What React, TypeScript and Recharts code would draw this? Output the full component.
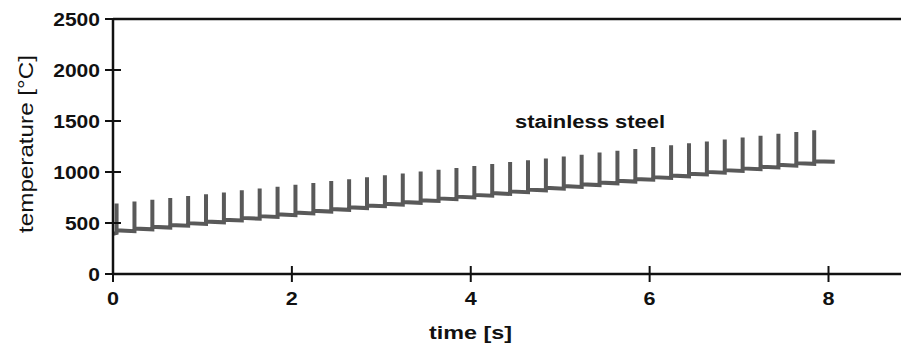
import { Label, Line, LineChart, ReferenceLine, XAxis, YAxis } from "recharts";

// time of each heating pulse [s]
const spikeTimes = [
    0.04, 0.24, 0.44, 0.64, 0.84, 1.04, 1.24, 1.44, 1.64, 1.84,
    2.04, 2.24, 2.44, 2.64, 2.84, 3.04, 3.24, 3.44, 3.64, 3.84,
    4.04, 4.24, 4.44, 4.64, 4.84, 5.04, 5.24, 5.44, 5.64, 5.84,
    6.04, 6.24, 6.44, 6.64, 6.84, 7.04, 7.24, 7.44, 7.64, 7.84,
];

// peak temperature reached in each pulse [°C]
const peakTemps = [
    690, 710, 727, 745, 765, 783, 800, 820, 838, 855,
    875, 893, 912, 930, 948, 968, 985, 1005, 1022, 1040,
    1060, 1078, 1097, 1115, 1133, 1152, 1170, 1190, 1208, 1225,
    1245, 1263, 1282, 1300, 1318, 1338, 1355, 1375, 1393, 1410,
];

// base temperature just before each pulse
const preTemps = [
    403, 420, 438, 455, 473, 490, 507, 525, 542, 560,
    577, 594, 612, 629, 646, 664, 681, 698, 716, 733,
    750, 768, 785, 802, 820, 837, 854, 872, 889, 906,
    924, 941, 958, 976, 993, 1010, 1028, 1045, 1062, 1080,
];

// base temperature just after each pulse
const postTemps = [
    428, 445, 463, 480, 498, 515, 532, 550, 567, 585,
    602, 619, 637, 654, 671, 689, 706, 723, 741, 758,
    775, 793, 810, 827, 845, 862, 879, 897, 914, 931,
    949, 966, 983, 1001, 1018, 1035, 1053, 1070, 1087, 1105,
];

const startPoint = { time: 0, temp: 395 };
const endPoint = { time: 8.07, temp: 1100 };

const xTicks = [0, 2, 4, 6, 8];
const yTicks = [0, 500, 1000, 1500, 2000, 2500];

const seriesLabel = "stainless steel";
const xLabel = "time [s]";
const yLabel = "temperature [°C]";

const data = [
    startPoint,
    ...spikeTimes.flatMap((time, i) => [
        { time, temp: preTemps[i] },
        { time, temp: peakTemps[i] },
        { time, temp: postTemps[i] },
    ]),
    endPoint,
];

const FONT = '"Liberation Sans", Arial, sans-serif';
const AXIS_X = 105; // y-axis line, chart coords
const AXIS_Y = 266; // x-axis line, chart coords
const INK = "#111";

function YTick(props: any) {
    const { y, payload } = props;
    const text = String(payload.value);
    return (
        <g>
            <line x1={AXIS_X - 8} x2={AXIS_X + 8} y1={y} y2={y} stroke={INK} strokeWidth={2} />
            <text
                x={AXIS_X - 13}
                y={y + 6.5}
                textAnchor="end"
                fontFamily={FONT}
                fontWeight="bold"
                fontSize={18}
                fill={INK}
                textLength={text.length * 11.7}
                lengthAdjust="spacingAndGlyphs"
            >
                {text}
            </text>
        </g>
    );
}

function XTick(props: any) {
    const { x, payload } = props;
    return (
        <g>
            <line x1={x} x2={x} y1={AXIS_Y - 8} y2={AXIS_Y + 8} stroke={INK} strokeWidth={2} />
            <text
                x={x}
                y={AXIS_Y + 31}
                textAnchor="middle"
                fontFamily={FONT}
                fontWeight="bold"
                fontSize={18}
                fill={INK}
                textLength={12}
                lengthAdjust="spacingAndGlyphs"
            >
                {payload.value}
            </text>
        </g>
    );
}

export default function App() {
    return (
        <div style={{ width: 901, height: 337, background: "#fff", overflow: "hidden" }}>
            <LineChart
                width={901}
                height={337}
                data={data}
                margin={{ top: 11, right: 0, left: 0, bottom: 11 }}
            >
                <XAxis
                    dataKey="time"
                    type="number"
                    domain={[0, 8.9]}
                    ticks={xTicks}
                    height={60}
                    axisLine={{ stroke: INK, strokeWidth: 2.5 }}
                    tickLine={false}
                    tick={<XTick />}
                >
                    <Label
                        content={() => (
                            <g>
                                <text
                                    x={421}
                                    y={331}
                                    fontFamily={FONT}
                                    fontWeight="bold"
                                    fontSize={19}
                                    fill={INK}
                                    textLength={83}
                                    lengthAdjust="spacingAndGlyphs"
                                >
                                    {xLabel}
                                </text>
                                <text
                                    x={507}
                                    y={120}
                                    fontFamily={FONT}
                                    fontWeight="bold"
                                    fontSize={18}
                                    fill={INK}
                                    textLength={150}
                                    lengthAdjust="spacingAndGlyphs"
                                >
                                    {seriesLabel}
                                </text>
                            </g>
                        )}
                    />
                </XAxis>
                <YAxis
                    type="number"
                    domain={[0, 2500]}
                    ticks={yTicks}
                    width={105}
                    axisLine={{ stroke: INK, strokeWidth: 2.5 }}
                    tickLine={false}
                    tick={<YTick />}
                >
                    <Label
                        content={() => (
                            <text
                                x={25}
                                y={136}
                                transform="rotate(-90, 25, 136)"
                                textAnchor="middle"
                                fontFamily={FONT}
                                fontSize={21}
                                fill={INK}
                                textLength={178}
                                lengthAdjust="spacingAndGlyphs"
                            >
                                {yLabel}
                            </text>
                        )}
                    />
                </YAxis>
                <ReferenceLine y={2500} stroke={INK} strokeWidth={2.5} />
                <Line
                    type="linear"
                    dataKey="temp"
                    stroke="#595959"
                    strokeWidth={4}
                    dot={false}
                    activeDot={false}
                    isAnimationActive={false}
                />
            </LineChart>
        </div>
    );
}
